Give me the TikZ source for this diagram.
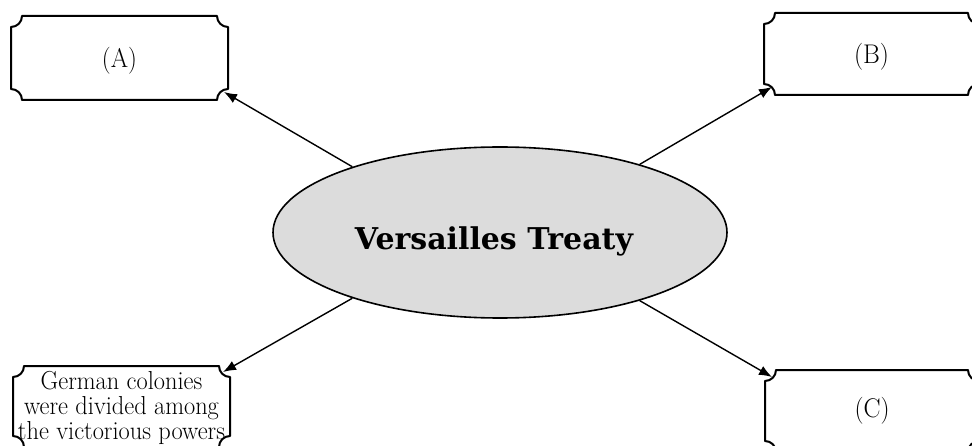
\documentclass[tikz,border=0pt]{standalone}
\usepackage{fontspec}
\usepackage{graphicx}
\usetikzlibrary{shapes.geometric,arrows.meta}
\newfontfamily\hubfont{DejaVu Serif}
\newlength\tr
\setlength\tr{11pt}
% ticket-shaped outline (concave quarter-circle corners) around a named node
\newcommand{\ticketoutline}[1]{%
  \draw[ticketline]
    ([yshift=-\tr]#1.north west) arc[start angle=-90,end angle=0,radius=\tr]
    -- ([xshift=-\tr]#1.north east) arc[start angle=180,end angle=270,radius=\tr]
    -- ([yshift=\tr]#1.south east) arc[start angle=90,end angle=180,radius=\tr]
    -- ([xshift=\tr]#1.south west) arc[start angle=0,end angle=90,radius=\tr]
    -- cycle;}
% lower a label inside its box without changing the box's dimensions
\newcommand{\lowered}[2]{\raisebox{-#1}[\height][\depth]{#2}}
\tikzset{
  ticketline/.style={line width=2pt, line join=round},
  ticketbox/.style={inner sep=0pt, outer sep=0pt, align=center,
    font=\fontsize{27}{30}\selectfont},
  hub/.style={ellipse, draw, line width=1.6pt, fill=hubgray,
    minimum width=454pt, minimum height=171pt, inner sep=0pt},
  hubtext/.style={inner sep=0pt, font=\hubfont\bfseries\fontsize{30}{34}\selectfont},
  link/.style={line width=1.4pt, -{Latex[length=13pt,width=10pt]}}
}
\definecolor{hubgray}{HTML}{DCDCDC}
\begin{document}
\begin{tikzpicture}[x=1pt,y=1pt]
  \useasboundingbox[fill=white] (0,0) rectangle (972,445);

  % central topic
  \node[hub] (VT) at (500,212.5) {};
  \node[hubtext] (VTlabel) at (494,204) {\resizebox{278pt}{\height}{Versailles Treaty}};

  % outcome boxes
  \node[ticketbox, minimum width=217pt, minimum height=84pt] (A) at (119.5,387)
    {\lowered{3pt}{\resizebox{35pt}{\height}{(A)}}};
  \node[ticketbox, minimum width=215pt, minimum height=82pt] (B) at (871.5,391)
    {\lowered{3pt}{\resizebox{35pt}{\height}{(B)}}};
  \node[ticketbox, minimum width=214pt, minimum height=82pt] (C) at (872,34)
    {\resizebox{35pt}{\height}{(C)}};
  \node[ticketbox, minimum width=217pt, minimum height=81pt,
        font=\fontsize{26}{22.5}\selectfont] (D) at (121.5,38.5)
    {\lowered{2pt}{\resizebox{207pt}{\height}{\begin{tabular}{@{}c@{}}German colonies\\
      were divided among\\the victorious powers\end{tabular}}}};

  \ticketoutline{A}
  \ticketoutline{B}
  \ticketoutline{C}
  \ticketoutline{D}

  % connectors from the treaty to each box
  \draw[link] (VT.156) -- ([shift={(-4,8)}]A.south east);
  \draw[link] (VT.26) -- ([shift={(8,8)}]B.south west);
  \draw[link] (VT.-26) -- ([shift={(7,-7)}]C.north west);
  \draw[link] (VT.204) -- ([shift={(-7,-6)}]D.north east);
\end{tikzpicture}
\end{document}
